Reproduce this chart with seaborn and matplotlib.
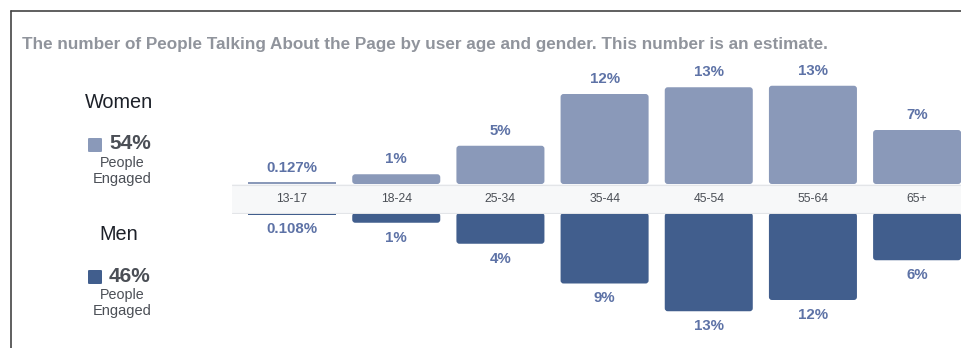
import matplotlib
matplotlib.use("Agg")
import matplotlib.pyplot as plt
import seaborn as sns
import pandas as pd
from matplotlib.patches import Rectangle, FancyBboxPatch

# ---- data ----
age_groups = ["13-17", "18-24", "25-34", "35-44", "45-54", "55-64", "65+"]
women_pct = [0.127, 1.3, 5.1, 12.0, 12.9, 13.1, 7.2]
men_pct = [0.108, 1.3, 4.1, 9.4, 13.1, 11.6, 6.3]
women_labels = ["0.127%", "1%", "5%", "12%", "13%", "13%", "7%"]
men_labels = ["0.108%", "1%", "4%", "9%", "13%", "12%", "6%"]
women_total = "54%"
men_total = "46%"
title = "The number of People Talking About the Page by user age and gender. This number is an estimate."

W, H = 962, 348
women_color = "#8a99b9"
men_color = "#415e8d"
label_color = "#5d72a6"

sns.set_theme(style="white")
plt.rcParams["font.family"] = ["Liberation Sans", "DejaVu Sans"]

fig = plt.figure(figsize=(W / 100, H / 100), dpi=100)
fig.patch.set_facecolor("white")

def fx(px):
    return px / W

def fy(py):
    return 1 - py / H

# axes geometry (pixels)
x_left = 240
unit = 104.17
x_right = W
xmax = -0.5 + (x_right - x_left) / unit
scale = 7.5  # px per percent
band_top, band_bot = 184, 213

top_ax = fig.add_axes([fx(x_left), fy(band_top), fx(x_right - x_left), (band_top - 30) / H])
bot_ax = fig.add_axes([fx(x_left), 0, fx(x_right - x_left), (H - band_bot) / H])

dfw = pd.DataFrame({"age": age_groups, "pct": women_pct})
dfm = pd.DataFrame({"age": age_groups, "pct": men_pct})

sns.barplot(data=dfw, x="age", y="pct", ax=top_ax, color=women_color, width=0.845,
            saturation=1, linewidth=0)
sns.barplot(data=dfm, x="age", y="pct", ax=bot_ax, color=men_color, width=0.845,
            saturation=1, linewidth=0)

top_ax.set_ylim(0, (band_top - 30) / scale)
bot_ax.set_ylim((H - band_bot) / scale, 0)

for ax, labels, up in [(top_ax, women_labels, True), (bot_ax, men_labels, False)]:
    ax.set_xlim(-0.5, xmax)
    ax.axis("off")
    ax.patch.set_alpha(0)
    ylo, yhi = ax.get_ylim()
    yunits_per_px = abs(yhi - ylo) / (ax.get_position().height * H)
    xunits_per_px = (xmax + 0.5) / (ax.get_position().width * W)
    for p in list(ax.patches):
        x, y = p.get_x(), p.get_y()
        w, h = p.get_width(), p.get_height()
        h_px = abs(h) / yunits_per_px
        fc = p.get_facecolor()
        if h_px < 6:
            p.set_height(max(abs(h), 1.6 * yunits_per_px) * (1 if h >= 0 else -1))
            continue
        p.set_visible(False)
        r = 3 * xunits_per_px
        fb = FancyBboxPatch((x, y), w, h,
                            boxstyle=f"round,pad=0,rounding_size={r}",
                            mutation_aspect=yunits_per_px / xunits_per_px,
                            facecolor=fc, edgecolor="none")
        ax.add_patch(fb)
    vals = women_pct if up else men_pct
    for i, (v, lab) in enumerate(zip(vals, labels)):
        off = 15 * yunits_per_px
        ax.text(i, v + off, lab, ha="center", va="center", fontsize=10.8,
                fontweight="bold", color=label_color, clip_on=False)

# band with age labels
band_ax = fig.add_axes([fx(232), fy(band_bot + 1), fx(W - 232), (band_bot + 1 - band_top) / H])
band_ax.set_xlim(0, 1)
band_ax.set_ylim(0, 1)
band_ax.axis("off")
band_ax.add_patch(Rectangle((0, 0), 1, 1, facecolor="#f7f8f9", edgecolor="none"))
band_ax.plot([0, 1], [0.98, 0.98], color="#e3e5e8", lw=0.8)
band_ax.plot([0, 1], [0.02, 0.02], color="#e3e5e8", lw=0.8)
for i, a in enumerate(age_groups):
    cx = (x_left + (i + 0.5) * unit - 232) / (W - 232)
    band_ax.text(cx, 0.5, a, ha="center", va="center", fontsize=8.8, color="#4b4f56")

# frame lines
fig.add_artist(plt.Line2D([fx(10.5), 1], [fy(10.5), fy(10.5)], color="#444444", lw=1.2))
fig.add_artist(plt.Line2D([fx(10.5), fx(10.5)], [fy(10.5), 0], color="#444444", lw=1.2))

# title
fig.text(fx(22), fy(45), title, ha="left", va="center", fontsize=12.3,
         fontweight="bold", color="#90949c")

# legend block
for name, total, col, yname, ysq in [("Women", women_total, women_color, 102, 145),
                                     ("Men", men_total, men_color, 235, 277)]:
    fig.text(fx(119), fy(yname), name, ha="center", va="center", fontsize=14.3, color="#1d2129")
    fig.add_artist(FancyBboxPatch((fx(88), fy(ysq + 7)), fx(14), 14 / H,
                                  boxstyle="round,pad=0,rounding_size=0.002",
                                  transform=fig.transFigure, facecolor=col, edgecolor="none"))
    fig.text(fx(109), fy(ysq - 1), total, ha="left", va="center", fontsize=15,
             fontweight="bold", color="#4b4f56")
    fig.text(fx(122), fy(ysq + 18), "People", ha="center", va="center", fontsize=10.3, color="#4b4f56")
    fig.text(fx(122), fy(ysq + 34), "Engaged", ha="center", va="center", fontsize=10.5, color="#4b4f56")

fig.savefig("out.png", dpi=100, facecolor="white")
